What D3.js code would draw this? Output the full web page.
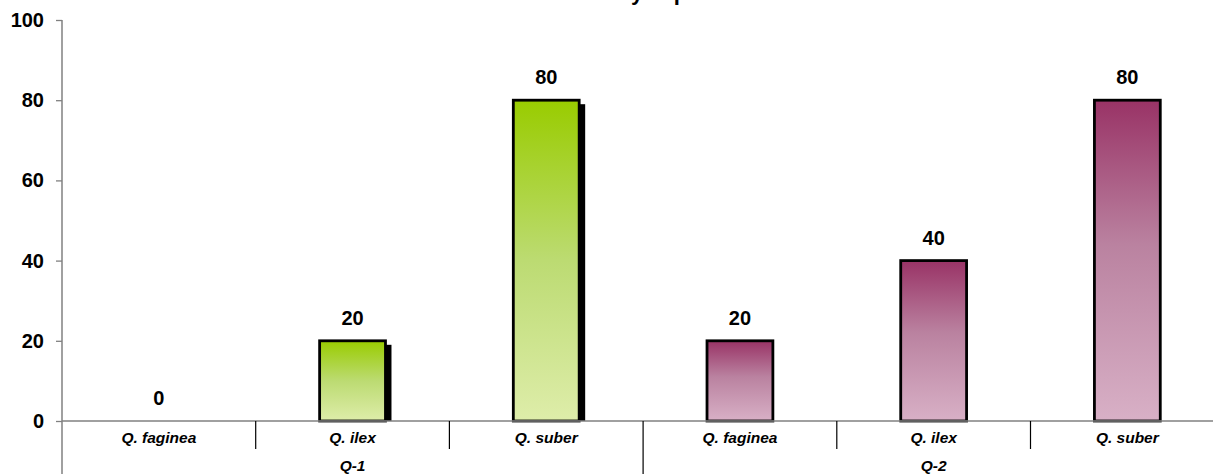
<!DOCTYPE html>
<html>
<head>
<meta charset="utf-8">
<script src="https://cdn.jsdelivr.net/npm/d3@7"></script>
<style>
  html, body { margin: 0; padding: 0; background: #fff; }
  svg { display: block; font-family: "Liberation Sans", Arial, sans-serif; }
</style>
</head>
<body>
<svg id="chart" width="1213" height="474"></svg>
<script>
// Sites and species
const groups = ["Q-1", "Q-2"];
const species = ["Q. faginea", "Q. ilex", "Q. suber"];
// Percentage per species in each site
const valuesQ1 = [0, 20, 80];
const valuesQ2 = [20, 40, 80];
const yTicks = [0, 20, 40, 60, 80, 100];
const titleText = "Incidencia en cada localidad y especie";

const rows = [];
groups.forEach((g, gi) => {
  const vals = gi === 0 ? valuesQ1 : valuesQ2;
  species.forEach((s, si) => rows.push({ key: g + "|" + s, group: g, gi, species: s, value: vals[si] }));
});

const svg = d3.select("#chart");
const plotLeft = 62, plotTop = 20, plotBase = 421, catStep = 193.7;
const plotRight = plotLeft + catStep * rows.length;

const x = d3.scaleBand()
  .domain(rows.map(d => d.key))
  .range([plotLeft, plotRight])
  .paddingInner(0.66)
  .paddingOuter(0.33);

const y = d3.scaleLinear().domain([0, 100]).range([plotBase, plotTop]);

// Gradients
const defs = svg.append("defs");
function grad(id, stops) {
  const lg = defs.append("linearGradient").attr("id", id)
    .attr("x1", 0).attr("y1", 0).attr("x2", 0).attr("y2", 1);
  stops.forEach(([o, c]) => lg.append("stop").attr("offset", o).attr("stop-color", c));
}
grad("gGreen", [[0, "#99CC00"], [0.5, "#BCDB72"], [1, "#DEEDAA"]]);
grad("gPink", [[0, "#993366"], [0.45, "#BA82A0"], [1, "#D8B0C6"]]);

// Title (its body runs above the top edge; only descenders show)
const title = svg.append("text")
  .attr("x", 0)
  .attr("y", 0)
  .attr("font-size", 22)
  .attr("font-weight", "bold")
  .attr("fill", "#000")
  .text(titleText);
try {
  const yIdx = titleText.lastIndexOf(" y ") + 1;
  const yPos = title.node().getStartPositionOfChar(yIdx).x;
  title.attr("x", 631 - yPos);
} catch (e) {
  title.attr("x", 328);
}

// Y axis
const yAxis = d3.axisLeft(y).tickValues(yTicks).tickSize(6).tickPadding(12);
const ga = svg.append("g").attr("transform", `translate(${plotLeft},0)`).call(yAxis);
ga.select(".domain").remove();
ga.selectAll(".tick line").attr("stroke", "#808080").attr("stroke-width", 1.3);
ga.selectAll(".tick text")
  .attr("font-size", 20).attr("font-weight", "bold").attr("fill", "#000")
  .attr("font-family", "'Liberation Sans', Arial, sans-serif");
svg.append("line")
  .attr("x1", plotLeft).attr("x2", plotLeft).attr("y1", plotTop).attr("y2", 474)
  .attr("stroke", "#808080").attr("stroke-width", 1.5);

// Shadows on the Q-1 bars
svg.append("g").selectAll("rect")
  .data(rows.filter(d => d.gi === 0 && d.value > 0))
  .join("rect")
  .attr("x", d => x(d.key) + 6)
  .attr("y", d => y(d.value) + 4)
  .attr("width", x.bandwidth())
  .attr("height", d => plotBase - y(d.value) - 4)
  .attr("fill", "#000");

// Bars
svg.append("g").selectAll("rect")
  .data(rows.filter(d => d.value > 0))
  .join("rect")
  .attr("x", d => x(d.key))
  .attr("y", d => y(d.value))
  .attr("width", x.bandwidth())
  .attr("height", d => plotBase - y(d.value))
  .attr("fill", d => d.gi === 0 ? "url(#gGreen)" : "url(#gPink)")
  .attr("stroke", "#000")
  .attr("stroke-width", 2.8);

// Baseline
svg.append("line")
  .attr("x1", plotLeft).attr("x2", plotRight).attr("y1", plotBase).attr("y2", plotBase)
  .attr("stroke", "#808080").attr("stroke-width", 1.5);

// Value labels
svg.append("g").selectAll("text")
  .data(rows)
  .join("text")
  .attr("x", d => x(d.key) + x.bandwidth() / 2)
  .attr("y", d => y(d.value) - 16)
  .attr("text-anchor", "middle")
  .attr("font-size", 20)
  .attr("font-weight", "bold")
  .text(d => d.value);

// Category separators
const bandStart = d => x(d.key) - x.step() * x.paddingOuter();
rows.forEach((d, i) => {
  if (i === 0) return;
  const isGroup = species.indexOf(d.species) === 0;
  svg.append("line")
    .attr("x1", bandStart(d)).attr("x2", bandStart(d))
    .attr("y1", plotBase).attr("y2", isGroup ? 474 : 449)
    .attr("stroke", "#000").attr("stroke-width", 1.2);
});

// Species labels
svg.append("g").selectAll("text")
  .data(rows)
  .join("text")
  .attr("x", d => x(d.key) + x.bandwidth() / 2)
  .attr("y", 443)
  .attr("text-anchor", "middle")
  .attr("font-size", 15.5)
  .attr("font-weight", "bold")
  .attr("font-style", "italic")
  .text(d => d.species);

// Site labels
svg.append("g").selectAll("text")
  .data(groups)
  .join("text")
  .attr("x", (g, gi) => {
    const keys = rows.filter(r => r.gi === gi).map(r => r.key);
    return (x(keys[0]) + x(keys[keys.length - 1]) + x.bandwidth()) / 2;
  })
  .attr("y", 471)
  .attr("text-anchor", "middle")
  .attr("font-size", 15.5)
  .attr("font-weight", "bold")
  .attr("font-style", "italic")
  .text(g => g);
</script>
</body>
</html>
